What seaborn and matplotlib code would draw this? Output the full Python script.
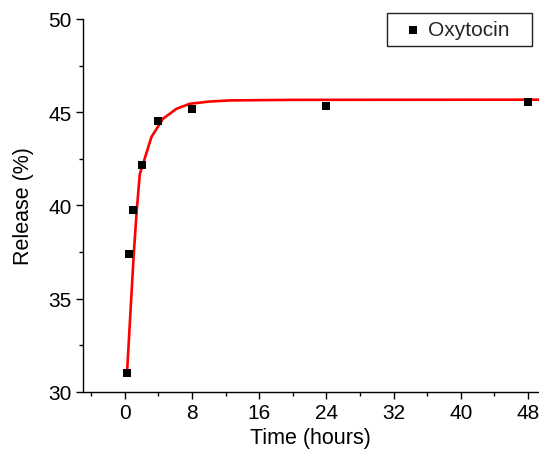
import numpy as np
import pandas as pd
import matplotlib
matplotlib.use("Agg")
import matplotlib.pyplot as plt
from matplotlib.patches import Rectangle
from matplotlib.ticker import MultipleLocator
import seaborn as sns

# Measured release of oxytocin over time
time_h = [0.25, 0.5, 1, 2, 4, 8, 24, 48]
release_pct = [31.0, 37.4, 39.75, 42.15, 44.5, 45.15, 45.35, 45.55]

# Fitted release curve
fit_time = [0.27, 1.07, 1.43, 1.79, 3.18, 4.56, 6.15, 7.74, 10.1, 12.5, 20.0, 49.5]
fit_release = [31.0, 37.38, 39.74, 41.67, 43.67, 44.65, 45.18, 45.45, 45.57, 45.63, 45.66, 45.67]

x_ticks = [0, 8, 16, 24, 32, 40, 48]
y_ticks = [30, 35, 40, 45, 50]

sns.set_theme(style="ticks")
plt.rcParams["font.family"] = ["Liberation Sans", "DejaVu Sans"]
plt.rcParams["font.size"] = 15

W, H = 539, 456
fig = plt.figure(figsize=(W / 100, H / 100), dpi=100)
ax = fig.add_axes([0.1535, 0.1388, 0.8465, 0.8174])

points = pd.DataFrame({"Time": time_h, "Release": release_pct})
curve = pd.DataFrame({"Time": fit_time, "Release": fit_release})

sns.lineplot(data=curve, x="Time", y="Release", ax=ax, color="#ff0000",
             linewidth=1.9, sort=False, zorder=3, legend=False)
sns.scatterplot(data=points, x="Time", y="Release", ax=ax, marker="s",
                s=38, color="black", edgecolor="black", linewidth=0,
                zorder=4, label="Oxytocin")

ax.set_xlim(-5, 49.3)
ax.set_ylim(30, 50)
ax.set_xticks(x_ticks)
ax.set_yticks(y_ticks)
ax.xaxis.set_minor_locator(MultipleLocator(4))
ax.yaxis.set_minor_locator(MultipleLocator(2.5))
ax.tick_params(axis="both", which="major", length=5, width=1.0,
               color="black", labelsize=15, labelcolor="black", pad=3)
ax.tick_params(axis="both", which="minor", length=3, width=1.0, color="black")

ax.set_xlabel("Time (hours)", fontsize=15.5, color="black", labelpad=4)
ax.set_ylabel("Release (%)", fontsize=15.5, color="black", labelpad=10)

for side in ("top", "right"):
    ax.spines[side].set_visible(False)
for side in ("left", "bottom"):
    ax.spines[side].set_color("black")
    ax.spines[side].set_linewidth(1.0)

# Legend entry, with a plain rectangular frame drawn around it
leg = ax.legend(loc="center left",
                bbox_to_anchor=(402.6 / W, 1 - 30.5 / H),
                bbox_transform=fig.transFigure, borderaxespad=0,
                borderpad=0, frameon=False, fontsize=15,
                handletextpad=0.22, handlelength=1.0, markerscale=1.0)
fig.patches.append(Rectangle((387 / W, 1 - 47 / H), 144.5 / W, 33 / H,
                             transform=fig.transFigure, fill=False,
                             edgecolor="#222222", linewidth=1.0))

fig.savefig("out.png", dpi=100)
